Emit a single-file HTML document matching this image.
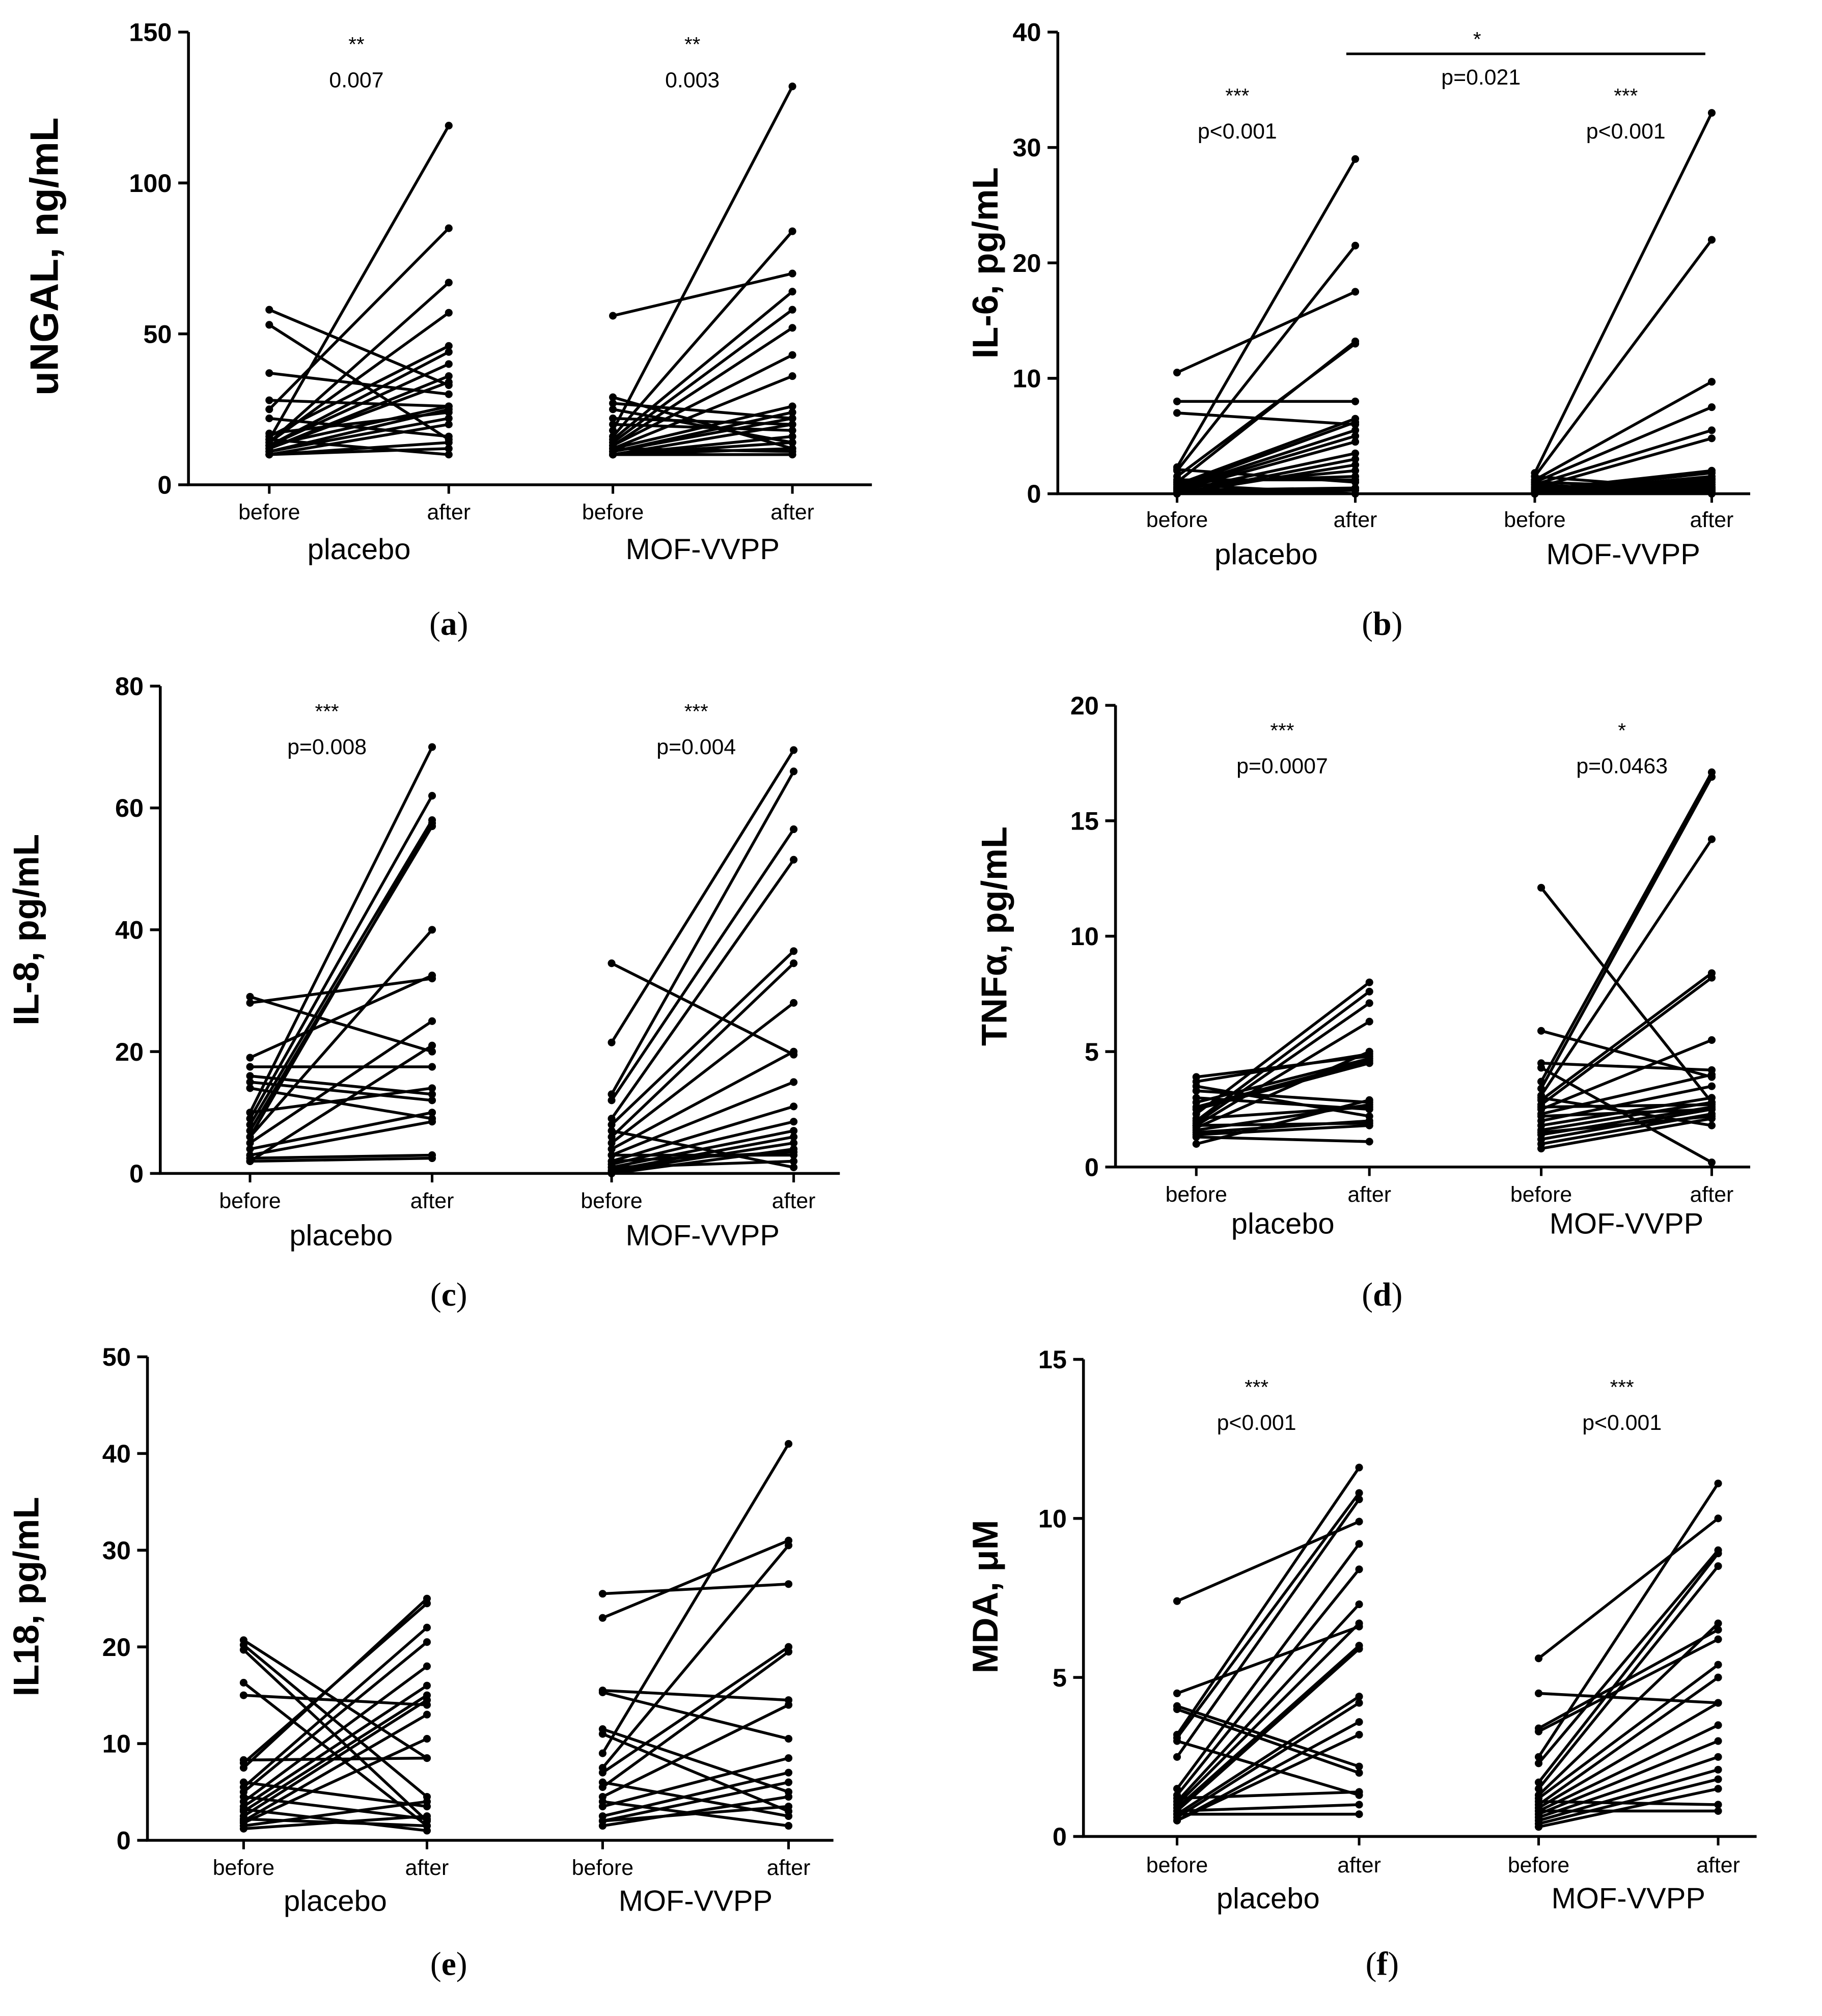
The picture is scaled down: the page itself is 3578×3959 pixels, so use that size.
<!DOCTYPE html>
<html><head><meta charset="utf-8"><style>
html,body{margin:0;padding:0;background:#fff}
svg{display:block}
text{font-family:"Liberation Sans",Arial,sans-serif;fill:#000}
</style></head><body>
<svg id="fig" xmlns="http://www.w3.org/2000/svg" width="3578" height="3959" viewBox="0 0 1421 1572" preserveAspectRatio="none"></svg>
<script>
// ---- data ----
const groupLabels = ["placebo","MOF-VVPP"];
const timeLabels = ["before","after"];
const aPB=[58,53,37,28,25,22,17,16,15,14,14,13,13,12,12,11,11,10,10,10,15,13];
const aPA=[33,15,30,26,85,16,24,46,119,67,57,44,40,36,34,25,22,20,14,12,10,26];
const aMB=[56,29,27,25,22,20,18,16,15,14,13,13,12,12,11,11,10,10,10,10,10,12];
const aMA=[70,12,22,14,20,18,132,84,64,58,52,43,36,26,24,22,20,16,14,12,10,11];
const bPB=[10.5,8,7,2.3,2,1.5,1,0.8,0.5,0.3,0.2,0,0,0.5,1,1.2,0.3,0.1,0.8,2.1,0.6,0.4];
const bPA=[17.5,8,6,29,21.5,13,13.2,6.5,5.5,4.5,3.5,3,2.5,2,1.5,1.2,0.5,0.3,0,1,6.2,5];
const bMB=[1.8,1.5,1.2,1,0.8,0.5,0.3,0.2,0.1,0,0,0.5,1,1.5,0.3,0.2,0.8,0.4,0,0.6];
const bMA=[33,22,9.7,7.5,5.5,4.8,2,1.8,1.5,1.2,1,0.8,0.5,0.3,0.2,0.1,0,0.6,1.3,0.4];
const cPB=[29,28,19,17.5,16,15,10,9,8,7,6,5,4,3,2.5,2,2,6,10,14];
const cPA=[20,32,32.5,17.5,13,12,70,62,58,57,40,25,10,8.5,3,2.5,21,57.5,14,9];
const cMB=[34.5,21.5,13,12,9,8,6,5,4,3,2,1.5,1,0.5,0.3,0,2,3,1,7];
const cMA=[19.5,69.5,66,56.5,51.5,36.5,34.5,28,20,15,11,8.5,7,6,5,4,3.5,3,2,1];
const dPB=[3.9,3.7,3.3,3,2.8,2.5,2.3,2,1.9,1.8,1.7,1.6,1.5,1.4,1.3,1.0,2.1,2.6,3.5,1.8];
const dPA=[4.8,4.9,2.8,2.5,4.7,4.5,8,7.6,7.1,6.3,5,2.7,2,1.8,1.1,2.9,2.6,4.6,2.2,1.9];
const dMB=[12.1,5.9,4.5,4.3,3.7,3.4,3.1,2.9,2.7,2.5,2.3,2,1.8,1.6,1.4,1.2,1.0,0.8,3,2.6,1.5,2.2];
const dMA=[2.8,3.9,4.2,0.2,17.1,16.9,14.2,8.4,8.2,5.5,4,3.5,3,2.8,2.6,2.5,2.3,2.1,1.8,2.7,2.2,2.5];
const ePB=[20.7,20.2,19.7,16.3,15,8.3,8,7.5,5.5,5,4,3.5,3,2.5,2,1.8,1.5,1.2,2.2,3.2,4.5,6];
const ePA=[8.5,4.5,2,1.5,14,8.5,24.5,25,22,20.5,18,16,15,14.5,13,10.5,4,2.5,1.5,1,2.2,3.5];
const eMB=[25.5,23,15.5,15.3,11.5,11,9,7.5,7,5.5,4.5,3.5,2.5,2,1.5,4,2,6];
const eMA=[26.5,31,14.5,10.5,5,3,41,30.5,20,19.5,14,8.5,7,6,4.5,1.5,3.5,2.5];
const fPB=[7.4,4.5,4.1,4,3.2,3.1,2.5,1.5,1.3,1.1,1,0.9,0.8,0.7,0.6,0.5,0.5,1.2,0.7,0.8,3];
const fPA=[9.9,6.6,2.2,2,11.6,10.8,10.6,9.2,8.4,7.3,6.7,6,5.9,4.4,4.2,3.6,3.2,1.4,0.7,1,1.3];
const fMB=[5.6,4.5,3.4,3.3,2.5,2.3,1.7,1.5,1.3,1.2,1,0.9,0.8,0.7,0.6,0.5,0.4,0.3,1.1,0.8];
const fMA=[10,4.2,6.5,6.2,11.1,9,8.9,8.5,6.7,5.4,5,4.2,3.5,3,2.5,2.1,1.8,1.5,1,0.8];
const aTicks=[0,50,100,150], bTicks=[0,10,20,30,40], cTicks=[0,20,40,60,80],
      dTicks=[0,5,10,15,20], eTicks=[0,10,20,30,40,50], fTicks=[0,5,10,15];
const aAnn=[["**","0.007"],["**","0.003"]];
const bAnn=[["***","p<0.001"],["***","p<0.001"]];
const cAnn=[["***","p=0.008"],["***","p=0.004"]];
const dAnn=[["***","p=0.0007"],["*","p=0.0463"]];
const fAnn=[["***","p<0.001"],["***","p<0.001"]];

const NS="http://www.w3.org/2000/svg";
const svg=document.getElementById('fig');
function mk(tag,attrs,parent,txt){const e=document.createElementNS(NS,tag);for(const k in attrs)e.setAttribute(k,attrs[k]);if(txt!==undefined)e.textContent=txt;(parent||svg).appendChild(e);return e;}

const panels=[
 {id:'a',x0:147,yT:25,yB:378,ticks:aTicks,xs:[210,350,478,618],xE:680,tl:405,gl:436,title:'uNGAL, ng/mL',tx:45,ty:200,let:[350,495],d:[aPB,aPA,aMB,aMA],ann:aAnn,annY:[40,68],annX:[278,540],ts:31},
 {id:'b',x0:825,yT:25,yB:385,ticks:bTicks,xs:[918,1057,1197,1335],xE:1365,tl:411,gl:440,title:'IL-6, pg/mL',tx:778,ty:205,let:[1078,495],d:[bPB,bPA,bMB,bMA],ann:bAnn,annY:[80,108],annX:[965,1268],ts:28},
 {id:'c',x0:125,yT:535,yB:915,ticks:cTicks,xs:[195,337,477,619],xE:655,tl:942,gl:971,title:'IL-8, pg/mL',tx:30,ty:725,let:[350,1018],d:[cPB,cPA,cMB,cMA],ann:cAnn,annY:[560,588],annX:[255,543],ts:28},
 {id:'d',x0:870,yT:550,yB:910,ticks:dTicks,xs:[933,1068,1202,1335],xE:1365,tl:937,gl:962,title:'TNFα, pg/mL',tx:785,ty:730,let:[1078,1018],d:[dPB,dPA,dMB,dMA],ann:dAnn,annY:[575,603],annX:[1000,1265],ts:28},
 {id:'e',x0:115,yT:1058,yB:1435,ticks:eTicks,xs:[190,333,470,615],xE:650,tl:1462,gl:1490,title:'IL18, pg/mL',tx:30,ty:1245,let:[350,1540],d:[ePB,ePA,eMB,eMA],ann:null,ts:28},
 {id:'f',x0:845,yT:1060,yB:1432,ticks:fTicks,xs:[918,1060,1200,1340],xE:1370,tl:1460,gl:1488,title:'MDA, μM',tx:778,ty:1245,let:[1078,1540],d:[fPB,fPA,fMB,fMA],ann:fAnn,annY:[1087,1115],annX:[980,1265],ts:28}
];

panels.forEach(p=>{
  const g=mk('g',{});
  
  
  const max=p.ticks[p.ticks.length-1];
  const y=v=>p.yB-(v/max)*(p.yB-p.yT);
  const ax=mk('path',{d:`M${p.x0},${p.yT}V${p.yB}H${p.xE}`,stroke:'#000','stroke-width':2.2,fill:'none'},g);
  
  
  p.ticks.forEach(t=>{
    mk('line',{x1:p.x0-8,x2:p.x0,y1:y(t),y2:y(t),stroke:'#000','stroke-width':2.2},g);
    const tt=mk('text',{x:p.x0-13,y:y(t)+7,'text-anchor':'end','font-size':20,'font-weight':'bold'},g,String(t));
    
    
  });
  p.xs.forEach((x,i)=>{
    mk('line',{x1:x,x2:x,y1:p.yB,y2:p.yB+7,stroke:'#000','stroke-width':2},g);
    const tl=mk('text',{x:x,y:p.tl,'text-anchor':'middle','font-size':17},g,timeLabels[i%2]);
    
    
  });
  [0,1].forEach(k=>{
    const gx=(p.xs[2*k]+p.xs[2*k+1])/2;
    const gt=mk('text',{x:gx,y:p.gl,'text-anchor':'middle','font-size':23},g,groupLabels[k]);
    
    
  });
  const yt=mk('text',{x:p.tx,y:p.ty,'text-anchor':'middle','font-size':p.ts,'font-weight':'bold',transform:`rotate(-90 ${p.tx} ${p.ty})`},g,p.title);
  
  
  const lt=mk('text',{x:p.let[0],y:p.let[1],'text-anchor':'middle','font-size':26,style:'font-family:"Liberation Serif",serif'},g);
  
  
  mk('tspan',{},lt,'(');
  mk('tspan',{'font-weight':'bold'},lt,p.id);
  mk('tspan',{},lt,')');
  [0,1].forEach(k=>{
    const B=p.d[2*k],A=p.d[2*k+1],x1=p.xs[2*k],x2=p.xs[2*k+1];
    const n=Math.min(B.length,A.length);
    for(let i=0;i<n;i++){
      const ln=mk('line',{x1:x1,y1:y(B[i]),x2:x2,y2:y(A[i]),stroke:'#000','stroke-width':2.2},g);
      
      
      mk('circle',{cx:x1,cy:y(B[i]),r:3,fill:'#000'},g);
      mk('circle',{cx:x2,cy:y(A[i]),r:3,fill:'#000'},g);
    }
    if(p.ann){
      const s=mk('text',{x:p.annX[k],y:p.annY[0],'text-anchor':'middle','font-size':16},g,p.ann[k][0]);
      
      
      const pv=mk('text',{x:p.annX[k],y:p.annY[1],'text-anchor':'middle','font-size':17},g,p.ann[k][1]);
      
      
    }
  });
});
// bracket in panel b
const br=mk('line',{x1:1050,x2:1330,y1:42,y2:42,stroke:'#000','stroke-width':2});


const bs=mk('text',{x:1152,y:36,'text-anchor':'middle','font-size':16},svg,'*');


const bp=mk('text',{x:1155,y:66,'text-anchor':'middle','font-size':17},svg,'p=0.021');


</script>
</body></html>
